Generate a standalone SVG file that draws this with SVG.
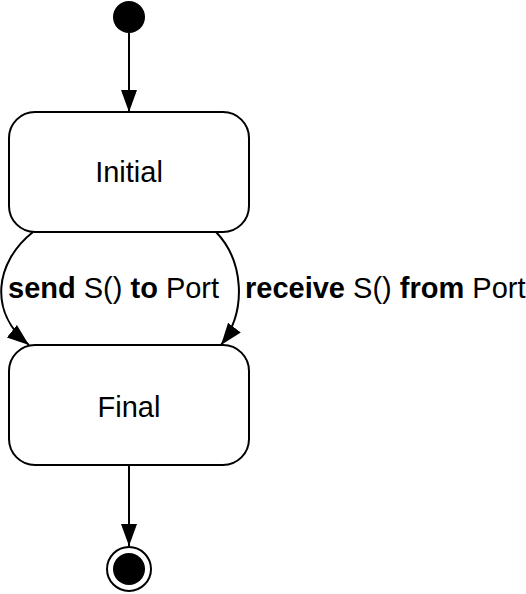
<svg xmlns="http://www.w3.org/2000/svg" width="526" height="594" viewBox="0 0 526 594">
<defs>
<style>
.state{fill:#fff;stroke:#000;stroke-width:2}
.lbl{font-family:"Liberation Sans",Arial,sans-serif;font-size:29px;fill:#000}
.b{font-weight:bold}
.edge{fill:none;stroke:#000;stroke-width:2}
</style>
<marker id="arr" markerUnits="userSpaceOnUse" markerWidth="24" markerHeight="18" refX="22" refY="8" orient="auto">
<path d="M0,0 L22,8 L0,16 Z" fill="#000"/>
</marker>
</defs>
<g id="connectors">
<path class="edge" d="M129,33 L129,112" marker-end="url(#arr)"/>
<path class="edge" d="M33,232 C-5,262 -12,312 29,345" marker-end="url(#arr)"/>
<path class="edge" d="M216,232 C243,260 248,310 221,345" marker-end="url(#arr)"/>
<path class="edge" d="M129,465 L129,546" marker-end="url(#arr)"/>
</g>
<g id="start"><circle cx="129" cy="17" r="16" fill="#000"/></g>
<g id="initial">
<rect class="state" x="9" y="112" width="240" height="120" rx="26" ry="26"/>
<text class="lbl" x="129" y="182" text-anchor="middle">Initial</text>
</g>
<g id="final">
<rect class="state" x="9" y="345" width="240" height="120" rx="26" ry="26"/>
<text class="lbl" x="129" y="417" text-anchor="middle">Final</text>
</g>
<g id="end">
<circle cx="129" cy="569" r="22" fill="#fff" stroke="#000" stroke-width="2"/>
<circle cx="129" cy="569" r="16" fill="#000"/>
</g>
<g id="labels">
<text class="lbl" x="8" y="298"><tspan class="b">send</tspan> S() <tspan class="b">to</tspan> Port</text>
<text class="lbl" x="245" y="298"><tspan class="b">receive</tspan> S() <tspan class="b">from</tspan> Port</text>
</g>
</svg>
